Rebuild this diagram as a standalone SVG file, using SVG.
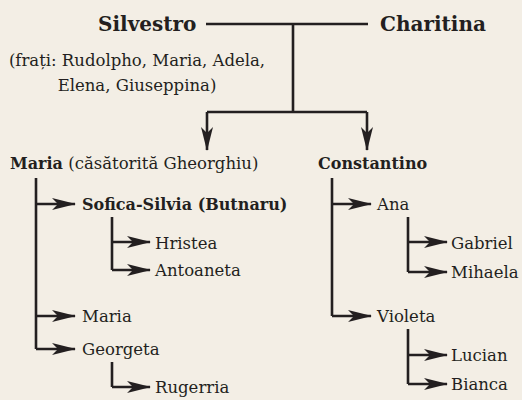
<svg xmlns="http://www.w3.org/2000/svg" width="522" height="400" viewBox="0 0 522 400">
<defs>
<style>
text{fill:#231f20;font-size:16.5px;font-family:"DejaVu Serif",serif}
.b{font-weight:bold;font-size:16px}
.big{font-size:20px;font-weight:bold}
.ln{fill:none;stroke:#231f20;stroke-width:2.6}
.ar{marker-end:url(#ah)}
</style>
<marker id="ah" markerUnits="userSpaceOnUse" markerWidth="28" markerHeight="16" viewBox="-26 -8 28 16" refX="0" refY="0" orient="auto">
<path d="M1,0 L-23,-6 L-17,0 L-23,6 Z" fill="#231f20"/>
</marker>
</defs>
<rect width="522" height="400" fill="#f3eee5"/>
<g id="connectors">
<path class="ln" d="M206,24 H368 M293,24 V112 M207,112 H367"/>
<path class="ln ar" d="M207,112 V150"/>
<path class="ln ar" d="M367,112 V150"/>
<path class="ln" d="M36,178 V349"/>
<path class="ln ar" d="M36,204 H75"/>
<path class="ln ar" d="M36,316 H75"/>
<path class="ln ar" d="M36,349 H75"/>
<path class="ln" d="M112,217 V270"/>
<path class="ln ar" d="M112,242 H150"/>
<path class="ln ar" d="M112,270 H150"/>
<path class="ln" d="M112,362 V387"/>
<path class="ln ar" d="M112,387 H150"/>
<path class="ln" d="M332,178 V316"/>
<path class="ln ar" d="M332,204 H371"/>
<path class="ln ar" d="M332,316 H371"/>
<path class="ln" d="M408,217 V272"/>
<path class="ln ar" d="M408,242 H447"/>
<path class="ln ar" d="M408,272 H447"/>
<path class="ln" d="M408,329 V384"/>
<path class="ln ar" d="M408,355 H447"/>
<path class="ln ar" d="M408,384 H447"/>
</g>
<g id="silvestro"><text class="big" x="98" y="31">Silvestro</text>
<text x="137" y="66" text-anchor="middle">(frați: Rudolpho, Maria, Adela,</text>
<text x="137" y="91" text-anchor="middle">Elena, Giuseppina)</text></g>
<g id="charitina"><text class="big" x="380" y="31">Charitina</text></g>
<g id="maria"><text x="10" y="169"><tspan class="b">Maria</tspan> (căsătorită Gheorghiu)</text></g>
<g id="sofica"><text class="b" x="82" y="210">Sofica-Silvia (Butnaru)</text></g>
<g id="hristea"><text x="155" y="249">Hristea</text></g>
<g id="antoaneta"><text x="155" y="276">Antoaneta</text></g>
<g id="maria2"><text x="82" y="322">Maria</text></g>
<g id="georgeta"><text x="82" y="355">Georgeta</text></g>
<g id="rugerria"><text x="155" y="393">Rugerria</text></g>
<g id="constantino"><text class="b" x="318" y="169">Constantino</text></g>
<g id="ana"><text x="377" y="210">Ana</text></g>
<g id="gabriel"><text x="451" y="249">Gabriel</text></g>
<g id="mihaela"><text x="451" y="278">Mihaela</text></g>
<g id="violeta"><text x="377" y="322">Violeta</text></g>
<g id="lucian"><text x="451" y="361">Lucian</text></g>
<g id="bianca"><text x="451" y="390">Bianca</text></g>
</svg>
